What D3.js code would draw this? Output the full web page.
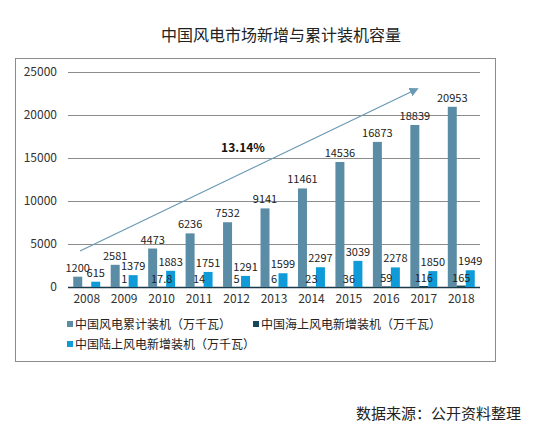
<!DOCTYPE html>
<html lang="zh">
<head>
<meta charset="UTF-8">
<title>中国风电市场新增与累计装机容量</title>
<script src="https://d3js.org/d3.v7.min.js"></script>
<style>
  body { margin: 0; background: #fff; }
  text { font-family: "Noto Sans CJK SC", "DejaVu Sans", sans-serif; }
</style>
</head>
<body>
<div id="chart"></div>
<script>
// data
const years = ['2008', '2009', '2010', '2011', '2012', '2013', '2014', '2015', '2016', '2017', '2018'];
const cumulative = [1200, 2581, 4473, 6236, 7532, 9141, 11461, 14536, 16873, 18839, 20953];
const offshore = [null, 1, 17.8, 14, 5, 6, 23, 36, 59, 116, 165];
const onshore = [615, 1379, 1883, 1751, 1291, 1599, 2297, 3039, 2278, 1850, 1949];
const seriesNames = ['中国风电累计装机（万千瓦）', '中国海上风电新增装机（万千瓦）', '中国陆上风电新增装机（万千瓦）'];
const seriesColors = ['#5b8ca5', '#17465a', '#0f9bd7'];
const yTicks = [0, 5000, 10000, 15000, 20000, 25000];

const W = 535, H = 437;
const margin = { top: 72, right: 55, bottom: 150, left: 68 };

const svg = d3.select('#chart').append('svg')
    .attr('width', W)
    .attr('height', H);

// outer frame
svg.append('rect')
    .attr('x', 15.5).attr('y', 58.5)
    .attr('width', 480).attr('height', 303)
    .attr('fill', 'none').attr('stroke', '#8c8c8c').attr('stroke-width', 1);

svg.append('text')
    .attr('x', 281).attr('y', 41)
    .attr('text-anchor', 'middle')
    .attr('font-size', 16).attr('fill', '#222')
    .text('中国风电市场新增与累计装机容量');

const x = d3.scaleBand()
    .domain(years)
    .range([margin.left, W - margin.right])
    .paddingInner(0.28).paddingOuter(0.14);

const inner = d3.scaleBand()
    .domain([0, 1, 2])
    .range([0, x.bandwidth()]);

const y = d3.scaleLinear()
    .domain([0, 25000])
    .range([H - margin.bottom, margin.top]);

// grid
svg.append('g')
    .selectAll('line')
    .data(yTicks)
    .enter().append('line')
    .attr('x1', margin.left).attr('x2', W - margin.right)
    .attr('y1', d => y(d) + 0.5).attr('y2', d => y(d) + 0.5)
    .attr('stroke', d => d === 0 ? '#1a3a4a' : '#8c8c8c')
    .attr('stroke-width', d => d === 0 ? 1.5 : 1);

// y axis labels
svg.append('g')
    .selectAll('text')
    .data(yTicks)
    .enter().append('text')
    .attr('x', 57).attr('y', d => y(d) + 4)
    .attr('text-anchor', 'end')
    .attr('font-size', 12).attr('fill', '#333')
    .text(d => d);

// x axis labels
svg.append('g')
    .selectAll('text')
    .data(years)
    .enter().append('text')
    .attr('x', d => x(d) + x.bandwidth() / 2).attr('y', 303)
    .attr('text-anchor', 'middle')
    .attr('font-size', 12).attr('fill', '#333')
    .text(d => d);

const all = [cumulative, offshore, onshore];
const points = all.map(vals => years.map((yr, i) => ({ yr, v: vals[i] })).filter(d => d.v !== null));

// bars first, labels on top
const barLayer = svg.append('g');
const labelLayer = svg.append('g');

points.forEach((pts, s) => {
    barLayer.append('g').selectAll('rect')
        .data(pts)
        .enter().append('rect')
        .attr('x', d => x(d.yr) + inner(s))
        .attr('y', d => y(d.v))
        .attr('width', inner.bandwidth())
        .attr('height', d => y(0) - y(d.v))
        .attr('fill', seriesColors[s]);
    labelLayer.append('g').selectAll('text')
        .data(pts)
        .enter().append('text')
        .attr('x', d => x(d.yr) + inner(s) + inner.bandwidth() / 2)
        .attr('y', d => y(d.v) - (s === 1 ? 4 : 5))
        .attr('text-anchor', 'middle')
        .attr('font-size', 11).attr('fill', '#222')
        .text(d => d.v);
});

// growth arrow
const defs = svg.append('defs');
defs.append('marker')
    .attr('id', 'arrow')
    .attr('viewBox', '0 0 10 10')
    .attr('refX', 8).attr('refY', 5)
    .attr('markerWidth', 7).attr('markerHeight', 7)
    .attr('orient', 'auto')
    .append('path')
    .attr('d', 'M0,0 L10,5 L0,10 z')
    .attr('fill', '#6a9ab5');

svg.append('line')
    .attr('x1', 80).attr('y1', 251)
    .attr('x2', 417).attr('y2', 89)
    .attr('stroke', '#6a9ab5').attr('stroke-width', 1.3)
    .attr('marker-end', 'url(#arrow)');

svg.append('text')
    .attr('x', 243).attr('y', 152)
    .attr('text-anchor', 'middle')
    .attr('font-size', 12).attr('font-weight', 'bold').attr('fill', '#111')
    .text('13.14%');

// legend
const legendPos = [[67, 325], [253, 325], [67, 345]];
seriesNames.forEach((name, i) => {
    const [lx, ly] = legendPos[i];
    svg.append('rect')
        .attr('x', lx).attr('y', ly - 4)
        .attr('width', 6).attr('height', 6)
        .attr('fill', seriesColors[i]);
    svg.append('text')
        .attr('x', lx + 8).attr('y', ly + 4)
        .attr('font-size', 12).attr('fill', '#222')
        .text(name);
});

svg.append('text')
    .attr('x', 521).attr('y', 419)
    .attr('text-anchor', 'end')
    .attr('font-size', 15).attr('fill', '#222')
    .text('数据来源：公开资料整理');
</script>
</body>
</html>
